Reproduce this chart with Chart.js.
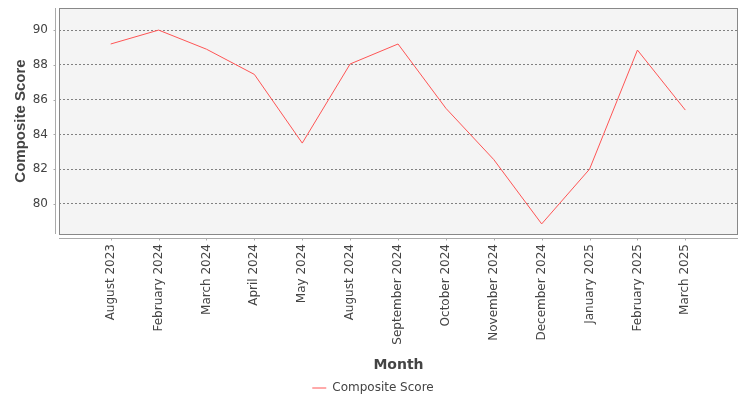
<!DOCTYPE html>
<html>
<head>
<meta charset="utf-8">
<script src="https://cdn.jsdelivr.net/npm/chart.js@4/dist/chart.umd.min.js"></script>
<style>
  body { margin: 0; background: #fff; }
  #wrap { width: 750px; height: 400px; }
</style>
</head>
<body>
<div id="wrap"><canvas id="grafico"></canvas></div>
<script>
/* DADOS */

const meses = ['August 2023', 'February 2024', 'March 2024', 'April 2024', 'May 2024',
    'August 2024', 'September 2024', 'October 2024', 'November 2024', 'December 2024',
    'January 2025', 'February 2025', 'March 2025'];

const pontuacao = [89.2, 90.0, 88.9, 87.45, 83.5, 88.05, 89.2, 85.5, 82.55, 78.85, 82.0, 88.85, 85.4];

const ticksY = [80, 82, 84, 86, 88, 90];

/* PLUGIN: fundo, borda e eixos afastados */

const fundoPlot = {
    id: 'fundoPlot',
    beforeDraw(chart) {
        const { ctx, chartArea: a } = chart;
        ctx.save();
        ctx.fillStyle = '#f4f4f4';
        ctx.fillRect(a.left, a.top, a.right - a.left, a.bottom - a.top);
        ctx.restore();
    },
    afterDraw(chart) {
        const { ctx, chartArea: a, scales } = chart;
        ctx.save();
        ctx.lineWidth = 1;
        ctx.strokeStyle = '#888';
        ctx.strokeRect(a.left + 0.5, a.top + 0.5, a.right - a.left - 1, a.bottom - a.top);

        ctx.strokeStyle = '#aaa';
        // eixo y
        let xEixo = a.left - 3.5;
        ctx.beginPath();
        ctx.moveTo(xEixo, a.top);
        ctx.lineTo(xEixo, a.bottom);
        ticksY.forEach(v => {
            let y = Math.round(scales.y.getPixelForValue(v)) + 0.5;
            ctx.moveTo(xEixo - 2, y);
            ctx.lineTo(xEixo, y);
        });
        // eixo x
        let yEixo = a.bottom + 4.5;
        ctx.moveTo(a.left, yEixo);
        ctx.lineTo(a.right, yEixo);
        meses.forEach((m, i) => {
            let x = Math.round(scales.x.getPixelForValue(i)) + 0.5;
            ctx.moveTo(x, yEixo);
            ctx.lineTo(x, yEixo + 2);
        });
        ctx.stroke();
        ctx.restore();
    }
};

/* GRAFICO */

Chart.defaults.font.family = '"DejaVu Sans", sans-serif';
Chart.defaults.color = '#444';

const grafico = new Chart(document.querySelector('#grafico'), {
    type: 'line',
    data: {
        datasets: [{
            label: 'Composite Score',
            data: pontuacao.map((v, i) => ({ x: i, y: v })),
            borderColor: '#ff5555',
            backgroundColor: '#ff5555',
            borderWidth: 1,
            pointRadius: 0,
            tension: 0
        }]
    },
    options: {
        responsive: true,
        maintainAspectRatio: false,
        animation: false,
        layout: { padding: { top: 8, right: 12, left: 8, bottom: -4 } },
        plugins: {
            tooltip: { enabled: false },
            legend: {
                position: 'bottom',
                labels: {
                    usePointStyle: true,
                    pointStyle: 'line',
                    pointStyleWidth: 14,
                    padding: 5,
                    font: { size: 12 },
                    color: '#444'
                }
            }
        },
        scales: {
            x: {
                type: 'linear',
                min: -1.08,
                max: 13.1,
                afterBuildTicks: scale => {
                    scale.ticks = meses.map((m, i) => ({ value: i }));
                },
                afterFit: scale => {
                    scale.height = 143;
                    scale.paddingLeft = 0;
                    scale.paddingRight = 0;
                },
                grid: { display: false, drawTicks: false },
                border: { display: false },
                ticks: {
                    autoSkip: false,
                    minRotation: 90,
                    maxRotation: 90,
                    padding: 10,
                    font: { size: 12 },
                    callback: v => meses[v]
                },
                title: {
                    display: true,
                    text: 'Month',
                    font: { size: 14, weight: 'bold' },
                    padding: { top: 10, bottom: 3 }
                }
            },
            y: {
                min: 78.27,
                max: 91.27,
                afterBuildTicks: scale => {
                    scale.ticks = ticksY.map(v => ({ value: v }));
                },
                afterFit: scale => {
                    scale.width = 51;
                    scale.paddingTop = 0;
                    scale.paddingBottom = 0;
                },
                grid: {
                    color: '#808080',
                    drawTicks: false
                },
                border: { display: false, dash: [2, 2] },
                ticks: { padding: 11, font: { size: 12 } },
                title: {
                    display: true,
                    text: 'Composite Score',
                    font: { family: '"Liberation Sans", sans-serif', size: 15, weight: 'bold' },
                    padding: { top: 4, bottom: 4 }
                }
            }
        }
    },
    plugins: [fundoPlot]
});
</script>
</body>
</html>
